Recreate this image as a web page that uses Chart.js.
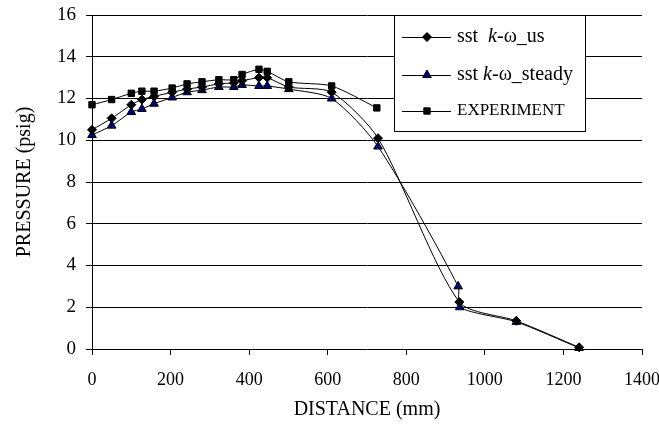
<!DOCTYPE html>
<html>
<head>
<meta charset="utf-8">
<script src="https://cdn.jsdelivr.net/npm/chart.js@4/dist/chart.umd.min.js"></script>
<style>
  html, body { margin: 0; padding: 0; background: #fff; }
  #wrap { width: 659px; height: 436px; }
</style>
</head>
<body>
<div id="wrap"><canvas id="myChart" width="659" height="436"></canvas></div>
<script>
// distances (mm) and pressures (psig)
const usDistance = [0, 50, 100, 127, 158, 204, 242, 280, 323, 361, 382, 425, 446, 501, 610, 728, 935, 1080, 1240];
const usPressure = [10.5, 11.05, 11.7, 11.95, 12.1, 12.3, 12.45, 12.55, 12.7, 12.75, 12.85, 13.0, 13.0, 12.55, 12.3, 10.1, 2.25, 1.35, 0.08];

const steadyDistance = [0, 50, 100, 127, 158, 204, 242, 280, 323, 361, 382, 425, 446, 501, 610, 728, 932, 936, 1080, 1240];
const steadyPressure = [10.25, 10.7, 11.35, 11.5, 11.75, 12.05, 12.3, 12.4, 12.55, 12.55, 12.65, 12.6, 12.6, 12.45, 12.0, 9.7, 3.0, 2.0, 1.3, 0.05];

const expDistance = [0, 50, 100, 127, 158, 204, 242, 280, 323, 361, 382, 425, 446, 501, 610, 725];
const expPressure = [11.7, 11.95, 12.25, 12.35, 12.35, 12.5, 12.7, 12.8, 12.9, 12.9, 13.15, 13.4, 13.3, 12.8, 12.6, 11.55];

const xTicks = [0, 200, 400, 600, 800, 1000, 1200, 1400];
const yTicks = [0, 2, 4, 6, 8, 10, 12, 14, 16];

const serif = '"Liberation Serif", "Times New Roman", serif';

function toPoints(xs, ys) {
    return xs.map((x, i) => ({ x: x, y: ys[i] }));
}

// legend box drawn inside the plot, like the original
const boxLegend = {
    id: 'boxLegend',
    afterDraw(chart) {
        const ctx = chart.ctx;
        const left = 394.5, top = 15.5, right = 585.5, bottom = 131.5;
        ctx.save();
        ctx.fillStyle = '#fff';
        ctx.fillRect(left, top, right - left, bottom - top);
        ctx.strokeStyle = '#000';
        ctx.lineWidth = 1;
        ctx.strokeRect(left, top, right - left, bottom - top);

        const rows = [37, 75, 111];
        chart.data.datasets.forEach((ds, i) => {
            const y = rows[i];
            ctx.beginPath();
            ctx.moveTo(402, y + 0.5);
            ctx.lineTo(451, y + 0.5);
            ctx.strokeStyle = '#000';
            ctx.lineWidth = 1;
            ctx.stroke();
            ctx.fillStyle = ds.pointBackgroundColor;
            ctx.strokeStyle = '#000';
            Chart.helpers.drawPoint(ctx, {
                pointStyle: ds.pointStyle,
                radius: ds.pointRadius,
                borderWidth: 1
            }, 427, y);
        });

        ctx.fillStyle = '#000';
        ctx.textBaseline = 'middle';
        ctx.textAlign = 'left';
        // label pieces: [text, italic]
        const labels = [
            [['sst  ', false], ['k', true], ['-\u03c9', false], ['_', false], ['us', false]],
            [['sst ', false], ['k', true], ['-\u03c9', false], ['_', false], ['steady', false]]
        ];
        labels.forEach((parts, i) => {
            let x = 457;
            parts.forEach(p => {
                ctx.font = (p[1] ? 'italic ' : '') + '20px ' + serif;
                ctx.fillText(p[0], x, rows[i]);
                x += ctx.measureText(p[0]).width;
            });
        });
        ctx.font = '17px ' + serif;
        ctx.fillText('EXPERIMENT', 457, rows[2]);
        ctx.restore();
    }
};

var ctx = document.getElementById('myChart').getContext('2d');
var chart = new Chart(ctx, {
    type: 'line',
    data: {
        datasets: [{
            label: 'sst k-\u03c9_us',
            data: toPoints(usDistance, usPressure),
            borderColor: '#000',
            borderWidth: 1,
            pointStyle: 'rectRot',
            pointRadius: 4.5,
            pointBackgroundColor: '#000',
            pointBorderColor: '#000',
            tension: 0.25,
            order: 1
        }, {
            label: 'sst k-\u03c9_steady',
            data: toPoints(steadyDistance, steadyPressure),
            borderColor: '#000',
            borderWidth: 1,
            pointStyle: 'triangle',
            pointRadius: 5,
            pointBackgroundColor: '#000080',
            pointBorderColor: '#000',
            tension: 0.25,
            order: 2
        }, {
            label: 'EXPERIMENT',
            data: toPoints(expDistance, expPressure),
            borderColor: '#000',
            borderWidth: 1,
            pointStyle: 'rect',
            pointRadius: 4.5,
            pointBackgroundColor: '#000',
            pointBorderColor: '#000',
            tension: 0.25,
            order: 0
        }]
    },
    options: {
        responsive: false,
        animation: false,
        events: [],
        clip: false,
        layout: { padding: { top: 15, right: 17, left: 9, bottom: 10 } },
        plugins: {
            legend: { display: false },
            tooltip: { enabled: false }
        },
        scales: {
            x: {
                type: 'linear',
                min: 0,
                max: 1400,
                afterBuildTicks: s => { s.ticks = xTicks.map(v => ({ value: v })); },
                afterFit: s => { s.height = 77; s.paddingLeft = 0; s.paddingRight = 0; },
                border: { display: false },
                grid: { drawOnChartArea: false, tickLength: 6, color: '#000' },
                ticks: { color: '#000', font: { family: serif, size: 18 }, padding: 14, maxRotation: 0,
                         callback: v => String(v) },
                title: { display: true, text: 'DISTANCE (mm)', color: '#000', font: { family: serif, size: 20 }, padding: { top: 4, bottom: 4 } }
            },
            y: {
                min: 0,
                max: 16,
                afterBuildTicks: s => { s.ticks = yTicks.map(v => ({ value: v })); },
                afterFit: s => { s.width = 83; s.paddingTop = 0; s.paddingBottom = 0; },
                border: { display: true, color: '#000', width: 1 },
                grid: { color: '#000', tickLength: 6, lineWidth: 1 },
                ticks: { color: '#000', font: { family: serif, size: 19 }, padding: 10,
                         callback: v => String(v) },
                title: { display: true, text: 'PRESSURE (psig)', color: '#000', font: { family: serif, size: 20 }, padding: { top: 4, bottom: 4 } }
            }
        }
    },
    plugins: [boxLegend]
});
</script>
</body>
</html>
